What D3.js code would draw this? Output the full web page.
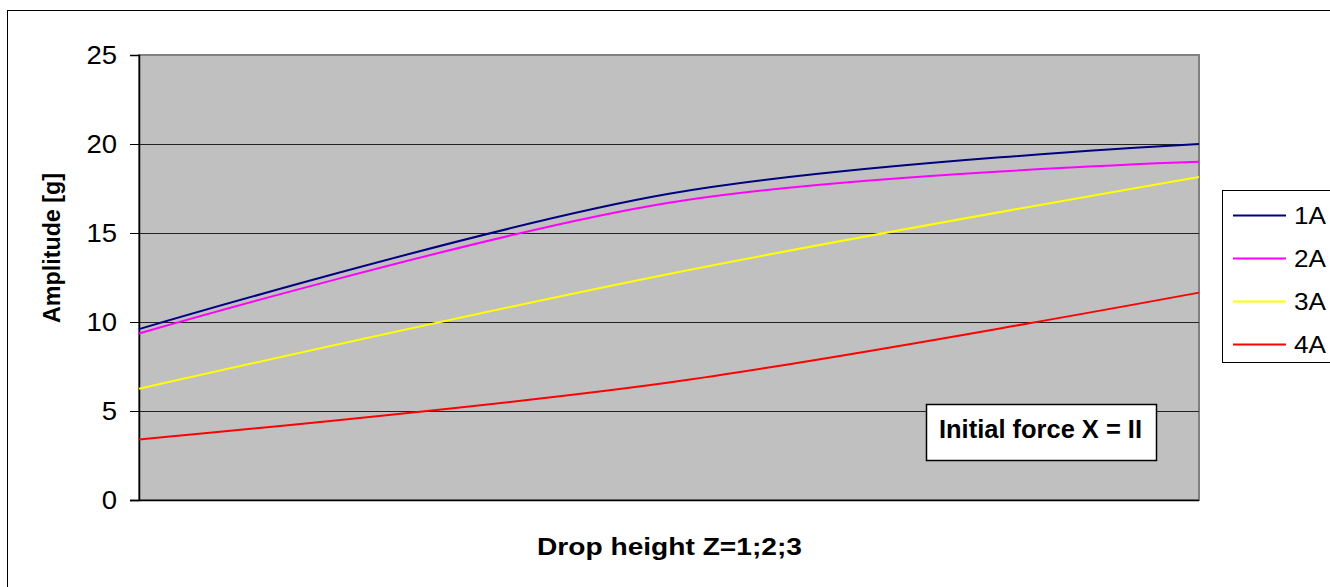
<!DOCTYPE html>
<html>
<head>
<meta charset="utf-8">
<script src="https://cdn.jsdelivr.net/npm/d3@7"></script>
<style>
  html, body { margin: 0; padding: 0; background: #fff; }
  svg { display: block; }
  text { font-family: "Liberation Sans", Arial, sans-serif; }
</style>
</head>
<body>
<svg id="chart" width="1330" height="587"></svg>
<script>
// ---- data ----
const dropHeights = [1, 2, 3];
const seriesNames = ["1A", "2A", "3A", "4A"];
const series1A = [9.6, 17.2, 20.0];
const series2A = [9.35, 16.7, 19.0];
const series3A = [6.25, 12.7, 18.15];
const series4A = [3.4, 6.6, 11.65];
const seriesColors = ["#000080", "#ff00ff", "#ffff00", "#ff0000"];
const yTicks = [0, 5, 10, 15, 20, 25];
const yTitle = "Amplitude [g]";
const xTitle = "Drop height Z=1;2;3";
const noteText = "Initial force X = II";

const allSeries = [series1A, series2A, series3A, series4A];

const svg = d3.select("#chart");
const plot = { left: 139, right: 1199, top: 55, bottom: 500 };

// outer chart border
svg.append("rect")
  .attr("x", 7.5).attr("y", 10.5)
  .attr("width", 1400).attr("height", 700)
  .attr("fill", "#fff").attr("stroke", "#000").attr("stroke-width", 1);

const x = d3.scaleLinear().domain([1, 3]).range([plot.left, plot.right]);
const y = d3.scaleLinear().domain([0, 25]).range([plot.bottom, plot.top]);

// plot area
svg.append("rect")
  .attr("x", plot.left).attr("y", plot.top)
  .attr("width", plot.right - plot.left).attr("height", plot.bottom - plot.top)
  .attr("fill", "#c0c0c0").attr("stroke", "#808080").attr("stroke-width", 2);

// gridlines
svg.append("g").selectAll("line")
  .data(yTicks.filter(d => d > 0 && d < 25))
  .join("line")
  .attr("x1", plot.left).attr("x2", plot.right)
  .attr("y1", d => Math.round(y(d)) + 0.5).attr("y2", d => Math.round(y(d)) + 0.5)
  .attr("stroke", "#222").attr("stroke-width", 1);

// y axis
const yAxis = d3.axisLeft(y).tickValues(yTicks).tickSize(9).tickPadding(13);
const gy = svg.append("g")
  .attr("transform", `translate(${plot.left},0)`)
  .call(yAxis);
gy.select(".domain").attr("stroke", "#000").attr("stroke-width", 1.5);
gy.selectAll(".tick line").attr("stroke", "#000");
gy.selectAll(".tick text")
  .attr("font-size", 25).attr("fill", "#000")
  .style("font-family", "'Liberation Sans', Arial, sans-serif")
  .attr("textLength", d => String(d).length * 15.3)
  .attr("lengthAdjust", "spacingAndGlyphs");

// bottom axis line
svg.append("line")
  .attr("x1", plot.left - 9).attr("x2", plot.right)
  .attr("y1", plot.bottom + 0.5).attr("y2", plot.bottom + 0.5)
  .attr("stroke", "#000").attr("stroke-width", 1.5);

// lines
const line = d3.line()
  .x((d, i) => x(dropHeights[i]))
  .y(d => y(d))
  .curve(d3.curveCardinal.tension(0));

svg.append("g").selectAll("path")
  .data(allSeries)
  .join("path")
  .attr("d", d => line(d))
  .attr("fill", "none")
  .attr("stroke", (d, i) => seriesColors[i])
  .attr("stroke-width", 2);

// axis titles
svg.append("text")
  .attr("transform", "translate(60,248) rotate(-90)")
  .attr("text-anchor", "middle")
  .attr("font-size", 23).attr("font-weight", "bold")
  .attr("textLength", 150).attr("lengthAdjust", "spacingAndGlyphs")
  .text(yTitle);

svg.append("text")
  .attr("x", 669.5).attr("y", 555)
  .attr("text-anchor", "middle")
  .attr("font-size", 23).attr("font-weight", "bold")
  .attr("textLength", 265).attr("lengthAdjust", "spacingAndGlyphs")
  .text(xTitle);

// note box
svg.append("rect")
  .attr("x", 926.5).attr("y", 404.5).attr("width", 230).attr("height", 56)
  .attr("fill", "#fff").attr("stroke", "#000").attr("stroke-width", 1.5);
svg.append("text")
  .attr("x", 1040.5).attr("y", 438)
  .attr("text-anchor", "middle")
  .attr("font-size", 26).attr("font-weight", "bold")
  .attr("textLength", 203).attr("lengthAdjust", "spacingAndGlyphs")
  .text(noteText);

// legend
const legend = svg.append("g");
legend.append("rect")
  .attr("x", 1222.5).attr("y", 190.5).attr("width", 200).attr("height", 172)
  .attr("fill", "#fff").attr("stroke", "#000").attr("stroke-width", 1);
const item = legend.selectAll("g.item")
  .data(seriesNames)
  .join("g").attr("class", "item")
  .attr("transform", (d, i) => `translate(0,${215 + i * 43})`);
item.append("line")
  .attr("x1", 1233).attr("x2", 1286).attr("y1", 0.5).attr("y2", 0.5)
  .attr("stroke", (d, i) => seriesColors[i]).attr("stroke-width", 2);
item.append("text")
  .attr("x", 1294).attr("y", 8.5)
  .attr("font-size", 24)
  .attr("textLength", 32).attr("lengthAdjust", "spacingAndGlyphs")
  .text(d => d);
</script>
</body>
</html>
